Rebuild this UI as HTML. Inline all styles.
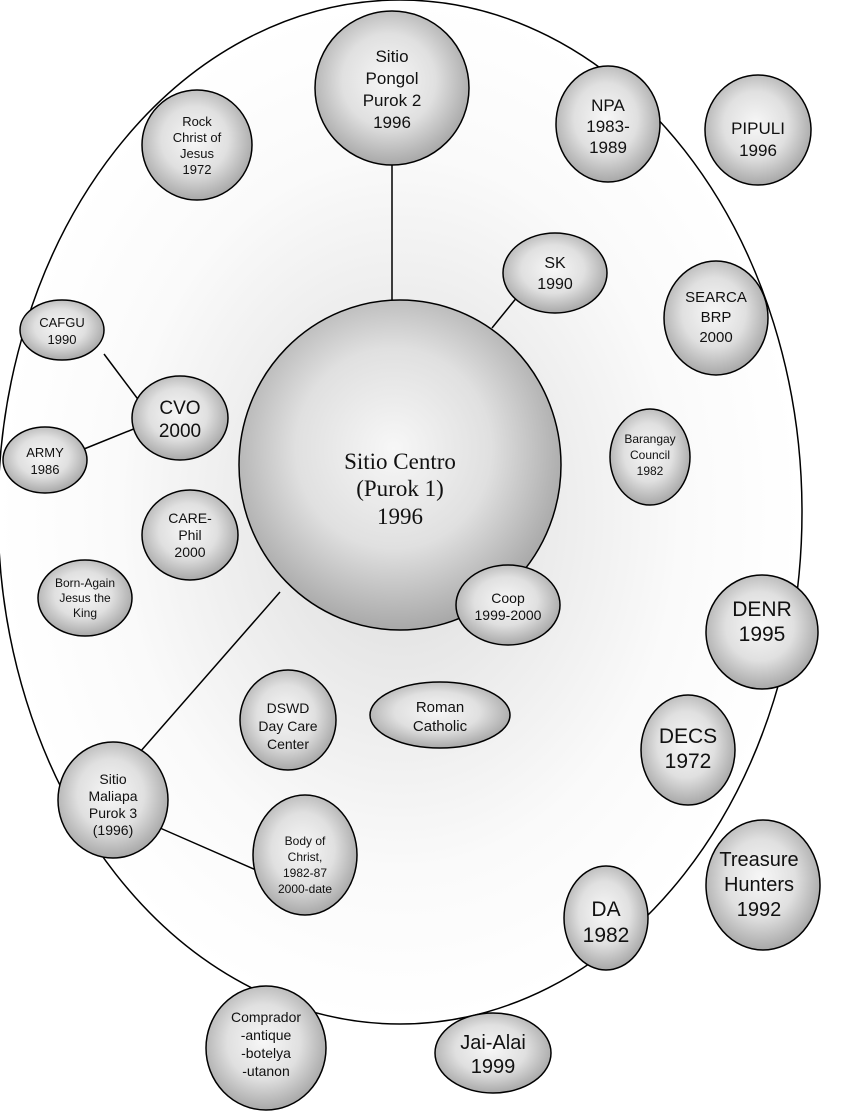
<!DOCTYPE html>
<html><head><meta charset="utf-8"><style>
html,body{margin:0;padding:0;background:#fff;}
svg{display:block;}
text{font-family:"Liberation Sans",sans-serif;fill:#111;text-anchor:middle;}
</style></head><body>
<svg width="850" height="1112" viewBox="0 0 850 1112" xmlns="http://www.w3.org/2000/svg">
<defs>
<radialGradient id="bg" cx="50%" cy="50%" r="50%">
<stop offset="0" stop-color="#d4d4d4"/><stop offset="0.25" stop-color="#e6e6e6"/><stop offset="0.7" stop-color="#fafafa"/><stop offset="1" stop-color="#ffffff"/>
</radialGradient>
<radialGradient id="n" cx="48%" cy="45%" r="55%">
<stop offset="0" stop-color="#f7f7f7"/><stop offset="0.55" stop-color="#e0e0e0"/><stop offset="1" stop-color="#a8a8a8"/>
</radialGradient>
</defs>
<ellipse cx="400" cy="512" rx="402" ry="512" fill="url(#bg)" stroke="#000" stroke-width="1.5"/>
<g stroke="#000" stroke-width="1.5">
<line x1="392" y1="160" x2="392" y2="305"/>
<line x1="518" y1="296" x2="492" y2="328"/>
<line x1="104" y1="354" x2="140" y2="402"/>
<line x1="84" y1="449" x2="136" y2="428"/>
<line x1="280" y1="592" x2="140" y2="752"/>
<line x1="160" y1="828" x2="256" y2="870"/>
</g>
<g fill="url(#n)" stroke="#000" stroke-width="1.5">
<ellipse cx="392" cy="88" rx="77" ry="77"/>
<ellipse cx="197" cy="145" rx="55" ry="55"/>
<ellipse cx="608" cy="124" rx="52" ry="58"/>
<ellipse cx="758" cy="130" rx="53" ry="55"/>
<ellipse cx="555" cy="273" rx="52" ry="40"/>
<ellipse cx="716" cy="318" rx="52" ry="57"/>
<ellipse cx="62" cy="330" rx="42" ry="30"/>
<ellipse cx="180" cy="418" rx="48" ry="42"/>
<ellipse cx="45" cy="460" rx="42" ry="33"/>
<ellipse cx="400" cy="465" rx="161" ry="165"/>
<ellipse cx="650" cy="457" rx="40" ry="48"/>
<ellipse cx="190" cy="535" rx="48" ry="45"/>
<ellipse cx="85" cy="598" rx="47" ry="38"/>
<ellipse cx="508" cy="605" rx="52" ry="40"/>
<ellipse cx="762" cy="632" rx="56" ry="57"/>
<ellipse cx="288" cy="720" rx="48" ry="50"/>
<ellipse cx="440" cy="715" rx="70" ry="33"/>
<ellipse cx="688" cy="750" rx="47" ry="55"/>
<ellipse cx="113" cy="800" rx="55" ry="58"/>
<ellipse cx="305" cy="855" rx="52" ry="60"/>
<ellipse cx="763" cy="885" rx="57" ry="65"/>
<ellipse cx="606" cy="918" rx="42" ry="52"/>
<ellipse cx="266" cy="1048" rx="60" ry="62"/>
<ellipse cx="493" cy="1053" rx="58" ry="40"/>
</g>
<g font-size="17"><text x="392" y="62">Sitio</text><text x="392" y="84">Pongol</text><text x="392" y="106">Purok 2</text><text x="392" y="128">1996</text></g>
<g font-size="13"><text x="197" y="126">Rock</text><text x="197" y="142">Christ of</text><text x="197" y="158">Jesus</text><text x="197" y="174">1972</text></g>
<g font-size="17"><text x="608" y="111">NPA</text><text x="608" y="132">1983-</text><text x="608" y="153">1989</text></g>
<g font-size="17"><text x="758" y="134">PIPULI</text><text x="758" y="156">1996</text></g>
<g font-size="16"><text x="555" y="268">SK</text><text x="555" y="289">1990</text></g>
<g font-size="15"><text x="716" y="302">SEARCA</text><text x="716" y="322">BRP</text><text x="716" y="342">2000</text></g>
<g font-size="13"><text x="62" y="327">CAFGU</text><text x="62" y="344">1990</text></g>
<g font-size="19"><text x="180" y="414">CVO</text><text x="180" y="437">2000</text></g>
<g font-size="13"><text x="45" y="457">ARMY</text><text x="45" y="474">1986</text></g>
<g font-size="23"><text x="400" y="469" style="font-family:'Liberation Serif',serif">Sitio Centro</text><text x="400" y="496" style="font-family:'Liberation Serif',serif">(Purok 1)</text><text x="400" y="524" style="font-family:'Liberation Serif',serif">1996</text></g>
<g font-size="12"><text x="650" y="443">Barangay</text><text x="650" y="459">Council</text><text x="650" y="475">1982</text></g>
<g font-size="14"><text x="190" y="523">CARE-</text><text x="190" y="540">Phil</text><text x="190" y="557">2000</text></g>
<g font-size="12"><text x="85" y="587">Born-Again</text><text x="85" y="602">Jesus the</text><text x="85" y="617">King</text></g>
<g font-size="14"><text x="508" y="603">Coop</text><text x="508" y="620">1999-2000</text></g>
<g font-size="21"><text x="762" y="616">DENR</text><text x="762" y="641">1995</text></g>
<g font-size="14"><text x="288" y="713">DSWD</text><text x="288" y="731">Day Care</text><text x="288" y="749">Center</text></g>
<g font-size="15"><text x="440" y="712">Roman</text><text x="440" y="731">Catholic</text></g>
<g font-size="21"><text x="688" y="743">DECS</text><text x="688" y="768">1972</text></g>
<g font-size="14"><text x="113" y="784">Sitio</text><text x="113" y="801">Maliapa</text><text x="113" y="818">Purok 3</text><text x="113" y="835">(1996)</text></g>
<g font-size="12"><text x="305" y="845">Body of</text><text x="305" y="861">Christ,</text><text x="305" y="877">1982-87</text><text x="305" y="893">2000-date</text></g>
<g font-size="20"><text x="759" y="866">Treasure</text><text x="759" y="891">Hunters</text><text x="759" y="916">1992</text></g>
<g font-size="21"><text x="606" y="916">DA</text><text x="606" y="942">1982</text></g>
<g font-size="14"><text x="266" y="1022">Comprador</text><text x="266" y="1040">-antique</text><text x="266" y="1058">-botelya</text><text x="266" y="1076">-utanon</text></g>
<g font-size="20"><text x="493" y="1049">Jai-Alai</text><text x="493" y="1073">1999</text></g>
</svg>
</body></html>
